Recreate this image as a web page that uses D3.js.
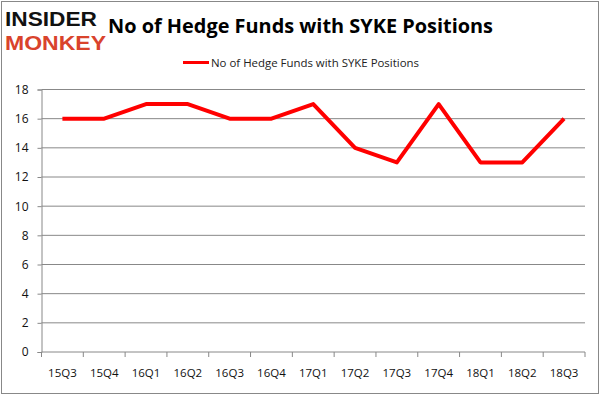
<!DOCTYPE html>
<html>
<head>
<meta charset="utf-8">
<script src="https://cdn.jsdelivr.net/npm/d3@7"></script>
<style>
  body { margin: 0; background: #fff; }
  text { font-family: "Open Sans", "Noto Sans", sans-serif; }
</style>
</head>
<body>
<svg id="chart" width="602" height="398"></svg>
<script>
// quarters and hedge fund counts
const quarters = ["15Q3", "15Q4", "16Q1", "16Q2", "16Q3", "16Q4", "17Q1", "17Q2", "17Q3", "17Q4", "18Q1", "18Q2", "18Q3"];
const funds = [16, 16, 17, 17, 16, 16, 17, 14, 13, 17, 13, 13, 16];
const yTicks = [0, 2, 4, 6, 8, 10, 12, 14, 16, 18];
const seriesName = "No of Hedge Funds with SYKE Positions";

const margin = {top: 89.5, right: 17, bottom: 46, left: 41.5};
const width = 602 - margin.left - margin.right;
const height = 398 - margin.top - margin.bottom;

const svg = d3.select("#chart");

// outer frame
svg.append("rect")
  .attr("x", 1.5).attr("y", 1.5)
  .attr("width", 597).attr("height", 392)
  .attr("fill", "none")
  .attr("stroke", "#888")
  .attr("stroke-width", 1);

// logo
svg.append("text")
  .attr("x", 5).attr("y", 26)
  .attr("textLength", 92).attr("lengthAdjust", "spacingAndGlyphs")
  .style("font-family", "'Liberation Sans'")
  .style("font-weight", "bold")
  .style("font-size", "21px")
  .attr("fill", "#111")
  .text("INSIDER");
svg.append("text")
  .attr("x", 5).attr("y", 50)
  .attr("textLength", 101).attr("lengthAdjust", "spacingAndGlyphs")
  .style("font-family", "'Liberation Sans'")
  .style("font-weight", "bold")
  .style("font-size", "21px")
  .attr("fill", "#d9432c")
  .text("MONKEY");

// title
svg.append("text")
  .attr("x", 108).attr("y", 33)
  .attr("textLength", 385).attr("lengthAdjust", "spacingAndGlyphs")
  .style("font-weight", "bold")
  .style("font-size", "20px")
  .attr("fill", "#000")
  .text(seriesName);

// legend
svg.append("line")
  .attr("x1", 183).attr("x2", 209)
  .attr("y1", 62.5).attr("y2", 62.5)
  .attr("stroke", "#ff0000")
  .attr("stroke-width", 3);
svg.append("text")
  .attr("x", 211).attr("y", 66.5)
  .attr("textLength", 208).attr("lengthAdjust", "spacingAndGlyphs")
  .style("font-size", "11px")
  .attr("fill", "#222")
  .text(seriesName);

const g = svg.append("g")
  .attr("transform", "translate(" + margin.left + "," + margin.top + ")");

const x = d3.scaleBand()
  .domain(quarters)
  .range([0, width]);

const y = d3.scaleLinear()
  .domain([0, 18])
  .range([height, 0]);

// gridlines
g.append("g")
  .selectAll("line")
  .data(yTicks.filter(d => d > 0))
  .join("line")
    .attr("x1", 0).attr("x2", width)
    .attr("y1", d => y(d)).attr("y2", d => y(d))
    .attr("stroke", "#888")
    .attr("stroke-width", 1);

// y axis
const yAxis = g.append("g")
  .call(d3.axisLeft(y).tickValues(yTicks).tickSize(4).tickPadding(9));
yAxis.select(".domain").attr("stroke", "#888");
yAxis.selectAll(".tick line").attr("stroke", "#888");
yAxis.selectAll(".tick text")
  .style("font-size", "12px")
  .style("font-family", "'Open Sans', sans-serif")
  .attr("fill", "#111");

// x axis: ticks on category boundaries
const xAxis = g.append("g")
  .attr("transform", "translate(0," + height + ")");
xAxis.append("line")
  .attr("x1", 0).attr("x2", width)
  .attr("stroke", "#888");
xAxis.selectAll("line.tk")
  .data(quarters)
  .join("line")
    .attr("class", "tk")
    .attr("x1", d => x(d) + x.bandwidth()).attr("x2", d => x(d) + x.bandwidth())
    .attr("y1", 0).attr("y2", 5)
    .attr("stroke", "#888");
xAxis.append("line")
  .attr("x1", 0).attr("x2", 0).attr("y1", 0).attr("y2", 5)
  .attr("stroke", "#888");
xAxis.selectAll("text")
  .data(quarters)
  .join("text")
    .attr("x", d => x(d) + x.bandwidth() / 2)
    .attr("y", 25)
    .attr("text-anchor", "middle")
    .style("font-size", "11.5px")
    .attr("fill", "#111")
    .text(d => d);

// series line
const line = d3.line()
  .x((d, i) => x(quarters[i]) + x.bandwidth() / 2)
  .y(d => y(d));

g.append("path")
  .datum(funds)
  .attr("d", line)
  .attr("fill", "none")
  .attr("stroke", "#ff0000")
  .attr("stroke-width", 4)
  .attr("stroke-linejoin", "round");
</script>
</body>
</html>
